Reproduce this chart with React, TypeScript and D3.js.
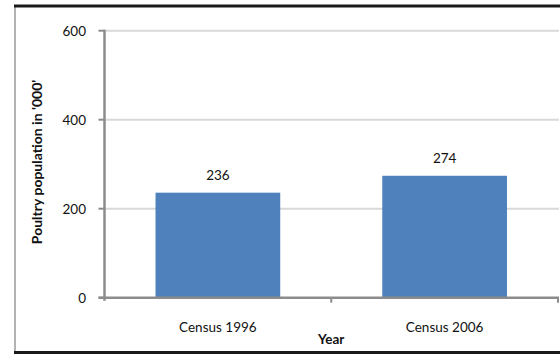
import React from "react";
import * as d3 from "d3";

const categories = ["Census 1996", "Census 2006"];
const values = [236, 274];
const yTicks = [0, 200, 400, 600];
const xTitle = "Year";
const yTitle = "Poultry population in '000'";

const W = 560;
const H = 356;
const FONT = "Lato, 'Open Sans', sans-serif";

export default function App() {
  const x0 = 104.5;
  const x1 = 558;
  const y = d3.scaleLinear().domain([0, 600]).range([297.7, 30.7]);
  const x = d3.scaleBand<string>().domain(categories).range([x0, x1]).paddingInner(0.45).paddingOuter(0.225);
  const band = (x1 - x0) / categories.length;

  return (
    <svg width={W} height={H} style={{ position: "absolute", left: 0, top: 0 }} fontFamily={FONT}>
      <rect x={0} y={0} width={W} height={H} fill="#fff" />
      {/* frame */}
      <line x1={15} x2={15} y1={6} y2={352} stroke="#9a9a9a" strokeWidth={1.5} />
      <line x1={14} x2={W} y1={6} y2={6} stroke="#1a1a1a" strokeWidth={3} />
      <line x1={14} x2={W} y1={352.5} y2={352.5} stroke="#1a1a1a" strokeWidth={3} />

      {/* gridlines */}
      {yTicks.filter((t) => t > 0).map((t) => (
        <line key={t} x1={x0} x2={x1 + 1} y1={y(t)} y2={y(t)} stroke="#d9d9d9" strokeWidth={2} />
      ))}

      {/* bars */}
      {categories.map((c, i) => (
        <rect key={c} x={x(c)} y={y(values[i])} width={x.bandwidth()} height={y(0) - y(values[i])} fill="#4f81bd" />
      ))}

      {/* data labels */}
      {categories.map((c, i) => (
        <text key={c} x={x(c)! + x.bandwidth() / 2} y={y(values[i]) - 13} textAnchor="middle" fontSize={13.5} fill="#111">
          {values[i]}
        </text>
      ))}

      {/* y axis */}
      <line x1={x0} x2={x0} y1={y(600) - 1} y2={y(0) + 3} stroke="#8c8c8c" strokeWidth={2.5} />
      {yTicks.map((t) => (
        <g key={t}>
          <line x1={x0 - 6} x2={x0} y1={y(t)} y2={y(t)} stroke="#8c8c8c" strokeWidth={2} />
          <text x={86} y={y(t) + 5} textAnchor="end" fontSize={13.5} fill="#111">{t}</text>
        </g>
      ))}

      {/* x axis */}
      <line x1={x0 - 6} x2={x1 + 1} y1={y(0)} y2={y(0)} stroke="#8c8c8c" strokeWidth={2.5} />
      {[1, 2].map((k) => (
        <line key={k} x1={x0 + band * k} x2={x0 + band * k} y1={y(0)} y2={y(0) + 5} stroke="#8c8c8c" strokeWidth={2} />
      ))}
      {categories.map((c) => (
        <text key={c} x={x(c)! + x.bandwidth() / 2} y={331.5} textAnchor="middle" fontSize={13.5} fill="#111">{c}</text>
      ))}
      <text x={x0 + band} y={343.5} textAnchor="middle" fontSize={13.5} fontWeight="bold" fill="#111">{xTitle}</text>
      <text transform={`translate(42,${y(305)}) rotate(-90)`} textAnchor="middle" fontSize={14} fontWeight="bold" fill="#111">{yTitle}</text>
    </svg>
  );
}
